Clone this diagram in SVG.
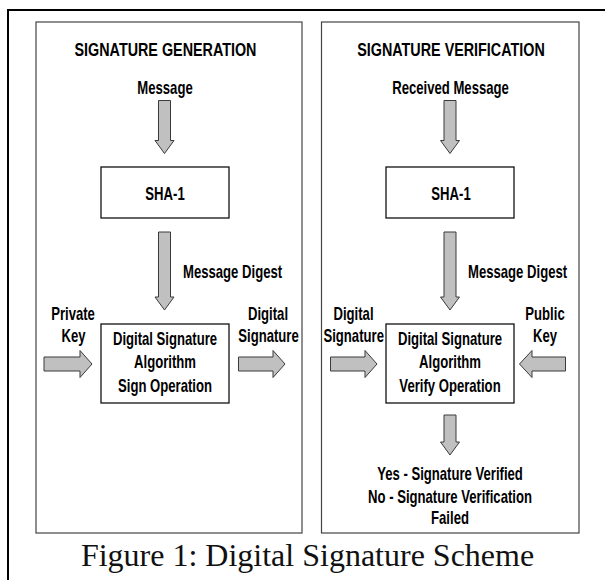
<svg xmlns="http://www.w3.org/2000/svg" width="605" height="580" viewBox="0 0 605 580">
  <style>
    .frame { fill: none; stroke: #000; stroke-width: 2; }
    .panel { fill: #fff; stroke: #444; stroke-width: 1.2; }
    .box { fill: #fff; stroke: #111; stroke-width: 1.3; }
    .arrow { fill: #c0c0c0; stroke: #3a3a3a; stroke-width: 1; stroke-linejoin: miter; }
    .lbl { font-family: "Liberation Sans", Arial, sans-serif; font-weight: bold; font-size: 17.5px; fill: #000; text-anchor: middle; }
    .title { font-size: 19px; }
    .start { text-anchor: start; }
    .caption { font-family: "Liberation Serif", "Times New Roman", serif; font-size: 32px; fill: #111; text-anchor: middle; }
  </style>
  <defs>
    <!-- block arrow shapes, drawn at the origin pointing down -->
    <path id="down-13" d="M-6,0 H6 V40 H9.5 L0,53 L-9.5,40 H-6 Z"/>
    <path id="down-78" d="M-6,0 H6 V65 H9.5 L0,78 L-9.5,65 H-6 Z"/>
    <path id="down-40" d="M-6,0 H6 V27 H9.5 L0,40 L-9.5,27 H-6 Z"/>
  </defs>

  <rect width="605" height="580" fill="#fff"/>
  <path class="frame" d="M8,580 V10 H605"/>

  <!-- labels use a condensed bold face: regular bold squeezed horizontally -->

  <!-- generation side -->
  <g id="panel-generation">
    <rect class="panel" x="36" y="22" width="266" height="511"/>
    <text class="lbl title" transform="translate(165.5 56) scale(0.755 1)">SIGNATURE GENERATION</text>
  </g>
  <!-- verification side -->
  <g id="panel-verification">
    <rect class="panel" x="321.5" y="22" width="257.5" height="511"/>
    <text class="lbl title" transform="translate(451 56) scale(0.755 1)">SIGNATURE VERIFICATION</text>
  </g>

  <g id="message">
    <text class="lbl" transform="translate(165 94) scale(0.75 1)">Message</text>
  </g>
  <g id="sha1-sign">
    <rect class="box" x="101" y="167" width="128" height="51"/>
    <text class="lbl" transform="translate(165 200) scale(0.75 1)">SHA-1</text>
  </g>
  <g id="private-key">
    <text class="lbl" transform="translate(73 320) scale(0.75 1)">Private</text>
    <text class="lbl" transform="translate(73.5 342) scale(0.75 1)">Key</text>
  </g>
  <g id="dsa-sign">
    <rect class="box" x="101" y="324" width="128" height="79"/>
    <text class="lbl" transform="translate(165 345) scale(0.75 1)">Digital Signature</text>
    <text class="lbl" transform="translate(165 368) scale(0.75 1)">Algorithm</text>
    <text class="lbl" transform="translate(165 391.5) scale(0.75 1)">Sign Operation</text>
  </g>
  <g id="signature-out">
    <text class="lbl" transform="translate(268 320) scale(0.75 1)">Digital</text>
    <text class="lbl" transform="translate(268.5 342) scale(0.75 1)">Signature</text>
  </g>

  <g id="received-message">
    <text class="lbl" transform="translate(450.5 94) scale(0.75 1)">Received Message</text>
  </g>
  <g id="sha1-verify">
    <rect class="box" x="386" y="167" width="128" height="51"/>
    <text class="lbl" transform="translate(451 200) scale(0.75 1)">SHA-1</text>
  </g>
  <g id="signature-in">
    <text class="lbl" transform="translate(353.5 320) scale(0.75 1)">Digital</text>
    <text class="lbl" transform="translate(353.7 342) scale(0.75 1)">Signature</text>
  </g>
  <g id="public-key">
    <text class="lbl" transform="translate(545 320) scale(0.75 1)">Public</text>
    <text class="lbl" transform="translate(545 342) scale(0.75 1)">Key</text>
  </g>
  <g id="dsa-verify">
    <rect class="box" x="386" y="324" width="128" height="79"/>
    <text class="lbl" transform="translate(450 345) scale(0.75 1)">Digital Signature</text>
    <text class="lbl" transform="translate(450 368) scale(0.75 1)">Algorithm</text>
    <text class="lbl" transform="translate(450 391.5) scale(0.75 1)">Verify Operation</text>
  </g>
  <g id="result">
    <text class="lbl" transform="translate(450 480) scale(0.75 1)">Yes - Signature Verified</text>
    <text class="lbl" transform="translate(450 502.5) scale(0.75 1)">No - Signature Verification</text>
    <text class="lbl" transform="translate(450 524) scale(0.75 1)">Failed</text>
  </g>

  <!-- block arrows between the stages -->
  <g id="connectors">
    <use class="arrow" href="#down-13" x="164.5" y="100.5"/>
    <use class="arrow" href="#down-78" x="164.5" y="232"/>
    <text class="lbl start" transform="translate(183 278) scale(0.75 1)">Message Digest</text>
    <path class="arrow" d="M44,357 H80 V350.5 L92,364 L80,377.5 V371 H44 Z"/>
    <path class="arrow" d="M238.5,357 H273 V350.5 L285,364 L273,377.5 V371 H238.5 Z"/>

    <use class="arrow" href="#down-13" x="450" y="100.5"/>
    <use class="arrow" href="#down-78" x="450" y="232"/>
    <text class="lbl start" transform="translate(468 278) scale(0.75 1)">Message Digest</text>
    <path class="arrow" d="M330.5,357 H365 V350.5 L377,364 L365,377.5 V371 H330.5 Z"/>
    <path class="arrow" d="M565.5,357 H532 V350.5 L519.5,364 L532,377.5 V371 H565.5 Z"/>
    <use class="arrow" href="#down-40" x="450" y="415"/>
  </g>

  <g id="caption">
    <text class="caption" x="307.5" y="566">Figure 1: Digital Signature Scheme</text>
  </g>
</svg>
